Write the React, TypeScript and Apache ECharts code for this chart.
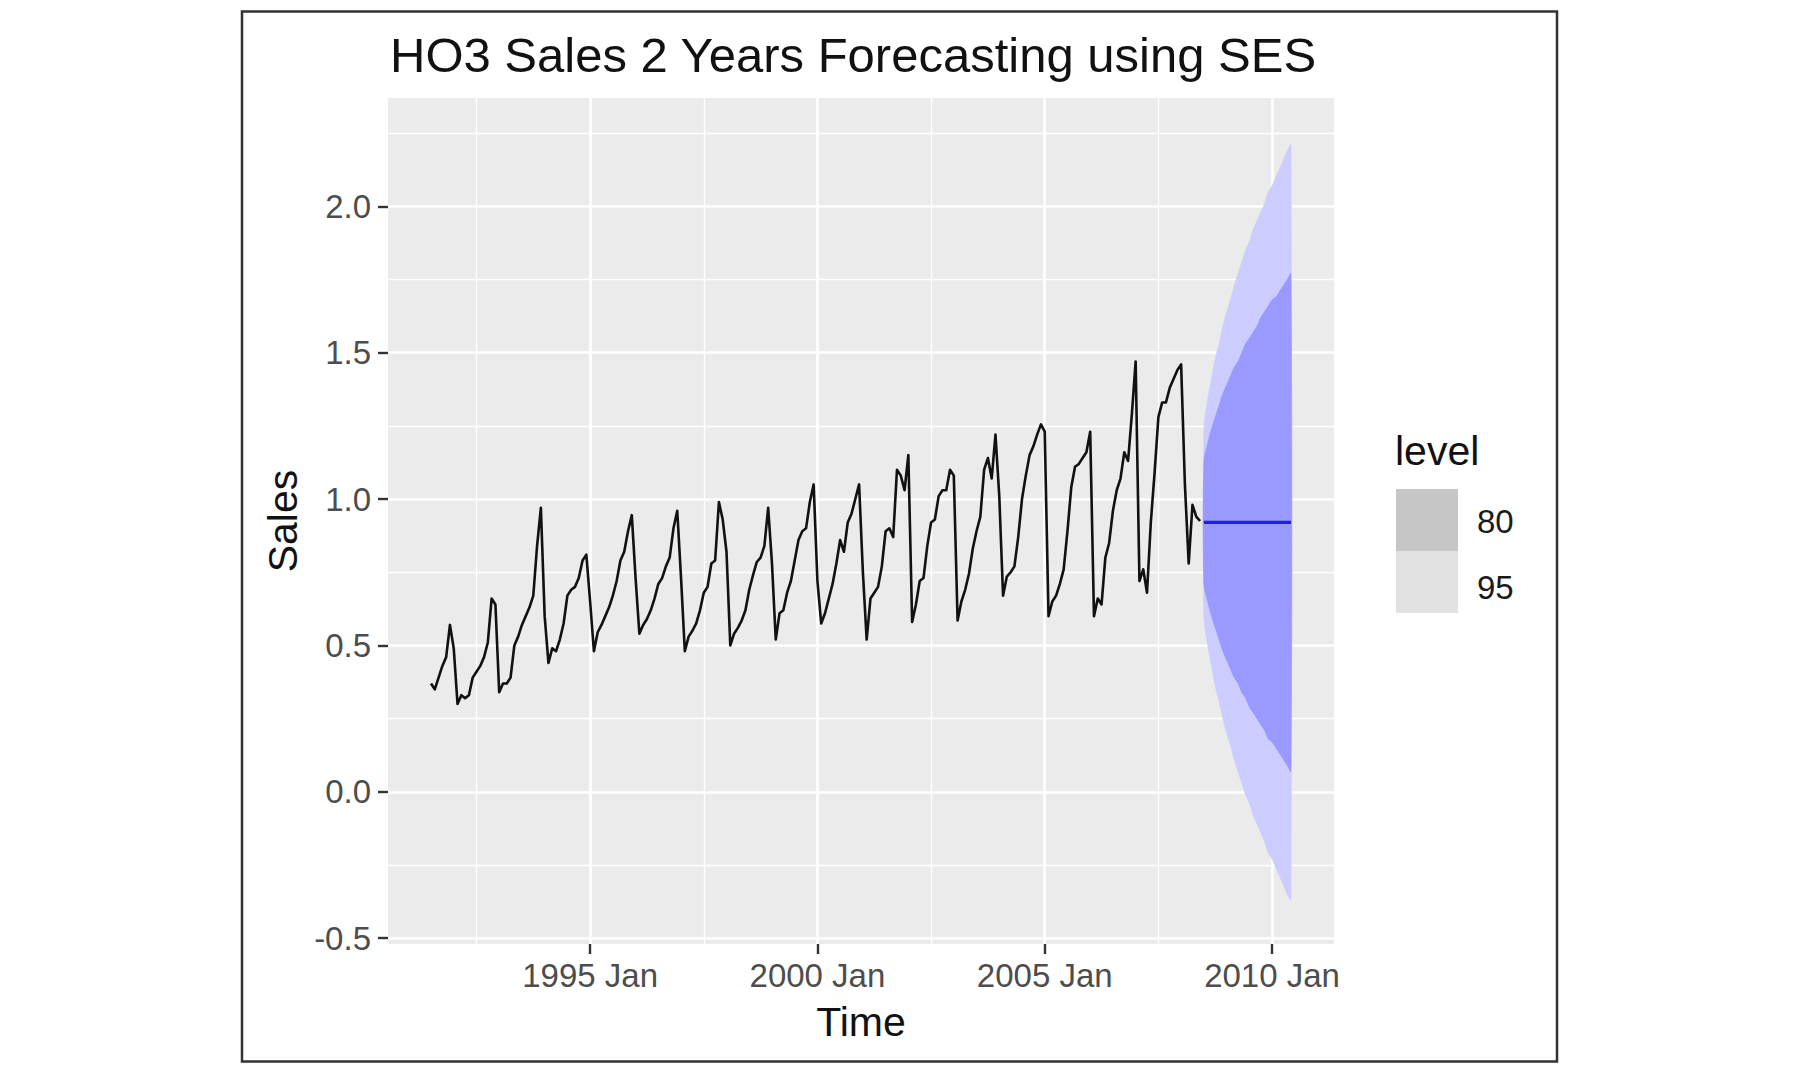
import React, { useEffect, useRef } from "react";
import * as echarts from "echarts";

// ---------------- DATA ----------------
const titleText = "HO3 Sales 2 Years Forecasting using SES";
const xAxisTitle = "Time";
const yAxisTitle = "Sales";
const legendTitle = "level";
const legendLevels = ["80", "95"];

// Monthly series starting 1991 Jul
const startYear = 1991;
const startMonth = 7;
const sales = [
  // 1991 Jul-Dec
  0.37, 0.35, 0.39, 0.43, 0.46, 0.57,
  // 1992
  0.49, 0.30, 0.33, 0.32, 0.33, 0.39, 0.41, 0.43, 0.46, 0.51, 0.66, 0.64,
  // 1993
  0.34, 0.37, 0.37, 0.39, 0.50, 0.53, 0.57, 0.60, 0.63, 0.67, 0.84, 0.97,
  // 1994
  0.60, 0.44, 0.49, 0.48, 0.52, 0.575, 0.67, 0.69, 0.70, 0.73, 0.79, 0.81,
  // 1995
  0.65, 0.48, 0.545, 0.57, 0.60, 0.63, 0.67, 0.72, 0.79, 0.82, 0.89, 0.945,
  // 1996
  0.73, 0.54, 0.57, 0.59, 0.62, 0.66, 0.71, 0.73, 0.77, 0.80, 0.90, 0.96,
  // 1997
  0.73, 0.48, 0.53, 0.55, 0.575, 0.62, 0.68, 0.70, 0.78, 0.79, 0.99, 0.93,
  // 1998
  0.82, 0.50, 0.54, 0.56, 0.585, 0.62, 0.69, 0.74, 0.785, 0.80, 0.84, 0.97,
  // 1999
  0.78, 0.52, 0.61, 0.62, 0.68, 0.72, 0.79, 0.86, 0.89, 0.90, 0.99, 1.05,
  // 2000
  0.72, 0.575, 0.61, 0.66, 0.71, 0.78, 0.86, 0.82, 0.92, 0.95, 1.0, 1.05,
  // 2001
  0.75, 0.52, 0.66, 0.68, 0.70, 0.77, 0.89, 0.90, 0.87, 1.10, 1.08, 1.03,
  // 2002
  1.15, 0.58, 0.64, 0.72, 0.73, 0.84, 0.92, 0.93, 1.01, 1.03, 1.03, 1.10,
  // 2003
  1.08, 0.585, 0.65, 0.69, 0.745, 0.83, 0.89, 0.94, 1.10, 1.14, 1.07, 1.22,
  // 2004
  1.01, 0.67, 0.735, 0.75, 0.77, 0.87, 1.0, 1.08, 1.15, 1.18, 1.22, 1.255,
  // 2005
  1.23, 0.60, 0.65, 0.67, 0.71, 0.76, 0.89, 1.04, 1.11, 1.12, 1.14, 1.16,
  // 2006
  1.23, 0.60, 0.66, 0.64, 0.80, 0.85, 0.96, 1.03, 1.07, 1.16, 1.13, 1.29,
  // 2007
  1.47, 0.72, 0.76, 0.68, 0.92, 1.09, 1.28, 1.33, 1.33, 1.38, 1.41, 1.44,
  // 2008 Jan-Jun
  1.46, 1.05, 0.78, 0.98, 0.94, 0.925,
];

// 24-month SES forecast (2008 Jul - 2010 Jun)
const forecastMean = [
  0.92, 0.92, 0.92, 0.92, 0.92, 0.92, 0.92, 0.92, 0.92, 0.92, 0.92, 0.92,
  0.92, 0.92, 0.92, 0.92, 0.92, 0.92, 0.92, 0.92, 0.92, 0.92, 0.92, 0.92,
];
const hi80 = [
  1.13, 1.19, 1.24, 1.28, 1.32, 1.36, 1.39, 1.42, 1.45, 1.47, 1.50, 1.53,
  1.55, 1.57, 1.59, 1.62, 1.64, 1.66, 1.68, 1.69, 1.71, 1.73, 1.75, 1.77,
];
const lo80 = [
  0.71, 0.65, 0.60, 0.56, 0.52, 0.48, 0.45, 0.42, 0.39, 0.37, 0.34, 0.32,
  0.29, 0.27, 0.25, 0.23, 0.21, 0.18, 0.17, 0.15, 0.13, 0.11, 0.09, 0.07,
];
const hi95 = [
  1.24, 1.34, 1.41, 1.48, 1.53, 1.59, 1.64, 1.68, 1.73, 1.77, 1.81, 1.85,
  1.88, 1.92, 1.95, 1.98, 2.01, 2.05, 2.07, 2.10, 2.13, 2.16, 2.19, 2.21,
];
const lo95 = [
  0.60, 0.50, 0.43, 0.36, 0.31, 0.25, 0.20, 0.16, 0.11, 0.07, 0.03, -0.01,
  -0.04, -0.08, -0.11, -0.14, -0.17, -0.21, -0.23, -0.26, -0.29, -0.32, -0.35, -0.37,
];

const xMajorTicks = [1995, 2000, 2005, 2010];
const xMinorTicks = [1992.5, 1997.5, 2002.5, 2007.5];
const yMajorTicks = [-0.5, 0, 0.5, 1.0, 1.5, 2.0];
const yMinorTicks = [-0.25, 0.25, 0.75, 1.25, 1.75, 2.25];

// ---------------- STYLE ----------------
const FONT = '"Liberation Sans", Arial, Helvetica, sans-serif';
const X_MIN = 1990.554;
const X_MAX = 2011.363;
const Y_MIN = -0.52;
const Y_MAX = 2.37;

const timeAt = (i: number) => startYear + (startMonth - 1) / 12 + i / 12;

export default function App() {
  const ref = useRef<HTMLDivElement>(null);

  useEffect(() => {
    if (!ref.current) return;
    const chart = echarts.init(ref.current, undefined, { renderer: "svg" });

    const histData = sales.map((v, i) => [timeAt(i), v]);
    const fcX = forecastMean.map((_, h) => timeAt(sales.length + h));
    const meanData = forecastMean.map((v, h) => [fcX[h], v]);

    const band = (lo: number[], hi: number[], color: string, z: number) => ({
      type: "custom",
      xAxisIndex: 0,
      yAxisIndex: 0,
      silent: true,
      z,
      data: fcX.map((x, i) => [x, lo[i], hi[i]]),
      encode: { x: 0, y: [1, 2] },
      renderItem: (params: any, api: any) => {
        if (params.dataIndex !== 0) return null;
        const pts: number[][] = [];
        for (let i = 0; i < fcX.length; i++) pts.push(api.coord([fcX[i], hi[i]]));
        for (let i = fcX.length - 1; i >= 0; i--) pts.push(api.coord([fcX[i], lo[i]]));
        return {
          type: "polygon",
          shape: { points: pts, smooth: 0.3 },
          style: { fill: color, stroke: color, lineWidth: 0.5 },
        };
      },
    });

    const tickLabelStyle = {
      color: "#4D4D4D",
      fontSize: 33,
      fontFamily: FONT,
    };

    const option: any = {
      animation: false,
      backgroundColor: "#FFFFFF",
      grid: {
        left: 388,
        top: 98,
        width: 946,
        height: 846,
        show: true,
        backgroundColor: "#EBEBEB",
        borderWidth: 0,
      },
      xAxis: [
        {
          type: "value",
          min: X_MIN,
          max: X_MAX,
          position: "bottom",
          axisLine: { show: false, onZero: false },
          axisTick: {
            show: true,
            customValues: xMajorTicks,
            length: 10,
            lineStyle: { color: "#333333", width: 2.4 },
          },
          axisLabel: {
            customValues: xMajorTicks,
            formatter: (v: number) => `${Math.round(v)} Jan`,
            margin: 15,
            ...tickLabelStyle,
          },
          splitLine: { show: true, lineStyle: { color: "#FFFFFF", width: 2.6 } },
        },
        {
          type: "value",
          min: X_MIN,
          max: X_MAX,
          position: "top",
          axisLine: { show: false, onZero: false },
          axisTick: { show: false, customValues: xMinorTicks },
          axisLabel: { show: false, customValues: xMinorTicks },
          splitLine: { show: true, lineStyle: { color: "#FFFFFF", width: 1.3 } },
        },
      ],
      yAxis: [
        {
          type: "value",
          min: Y_MIN,
          max: Y_MAX,
          position: "left",
          axisLine: { show: false, onZero: false },
          axisTick: {
            show: true,
            customValues: yMajorTicks,
            length: 10,
            lineStyle: { color: "#333333", width: 2.4 },
          },
          axisLabel: {
            customValues: yMajorTicks,
            formatter: (v: number) => v.toFixed(1),
            margin: 17,
            ...tickLabelStyle,
          },
          splitLine: { show: true, lineStyle: { color: "#FFFFFF", width: 2.6 } },
        },
        {
          type: "value",
          min: Y_MIN,
          max: Y_MAX,
          position: "right",
          axisLine: { show: false, onZero: false },
          axisTick: { show: false, customValues: yMinorTicks },
          axisLabel: { show: false, customValues: yMinorTicks },
          splitLine: { show: true, lineStyle: { color: "#FFFFFF", width: 1.3 } },
        },
      ],
      series: [
        band(lo95, hi95, "#CCCCFF", 2),
        band(lo80, hi80, "#9999FF", 3),
        {
          type: "line",
          xAxisIndex: 0,
          yAxisIndex: 0,
          data: histData,
          showSymbol: false,
          symbol: "none",
          silent: true,
          z: 4,
          lineStyle: { color: "#111111", width: 2.6, join: "round" },
        },
        {
          type: "line",
          xAxisIndex: 0,
          yAxisIndex: 0,
          data: meanData,
          showSymbol: false,
          symbol: "none",
          silent: true,
          z: 5,
          lineStyle: { color: "#1F1FE6", width: 3.2 },
        },
      ],
      graphic: [
        {
          type: "rect",
          silent: true,
          shape: { x: 242, y: 11.5, width: 1315, height: 1050 },
          style: { fill: "none", stroke: "#333333", lineWidth: 2.5 },
        },
        {
          type: "text",
          x: 390,
          y: 55,
          silent: true,
          style: {
            text: titleText,
            fontSize: 49,
            fontFamily: FONT,
            fill: "#111111",
            align: "left",
            verticalAlign: "middle",
          },
        },
        {
          type: "text",
          x: 861,
          y: 1022,
          silent: true,
          style: {
            text: xAxisTitle,
            fontSize: 41,
            fontFamily: FONT,
            fill: "#111111",
            align: "center",
            verticalAlign: "middle",
          },
        },
        {
          type: "text",
          x: 283,
          y: 521,
          rotation: Math.PI / 2,
          silent: true,
          style: {
            text: yAxisTitle,
            fontSize: 41,
            fontFamily: FONT,
            fill: "#111111",
            align: "center",
            verticalAlign: "middle",
          },
        },
        {
          type: "text",
          x: 1395,
          y: 451,
          silent: true,
          style: {
            text: legendTitle,
            fontSize: 41,
            fontFamily: FONT,
            fill: "#111111",
            align: "left",
            verticalAlign: "middle",
          },
        },
        {
          type: "rect",
          silent: true,
          shape: { x: 1396, y: 489, width: 62, height: 62 },
          style: { fill: "#C6C6C6" },
        },
        {
          type: "rect",
          silent: true,
          shape: { x: 1396, y: 551, width: 62, height: 62 },
          style: { fill: "#E2E2E2" },
        },
        {
          type: "text",
          x: 1477,
          y: 521,
          silent: true,
          style: {
            text: legendLevels[0],
            fontSize: 33,
            fontFamily: FONT,
            fill: "#1A1A1A",
            align: "left",
            verticalAlign: "middle",
          },
        },
        {
          type: "text",
          x: 1477,
          y: 587,
          silent: true,
          style: {
            text: legendLevels[1],
            fontSize: 33,
            fontFamily: FONT,
            fill: "#1A1A1A",
            align: "left",
            verticalAlign: "middle",
          },
        },
      ],
    };

    chart.setOption(option);
    return () => {
      chart.dispose();
    };
  }, []);

  return (
    <div
      ref={ref}
      style={{
        position: "fixed",
        left: 0,
        top: 0,
        width: 1800,
        height: 1070,
        background: "#FFFFFF",
      }}
    />
  );
}
